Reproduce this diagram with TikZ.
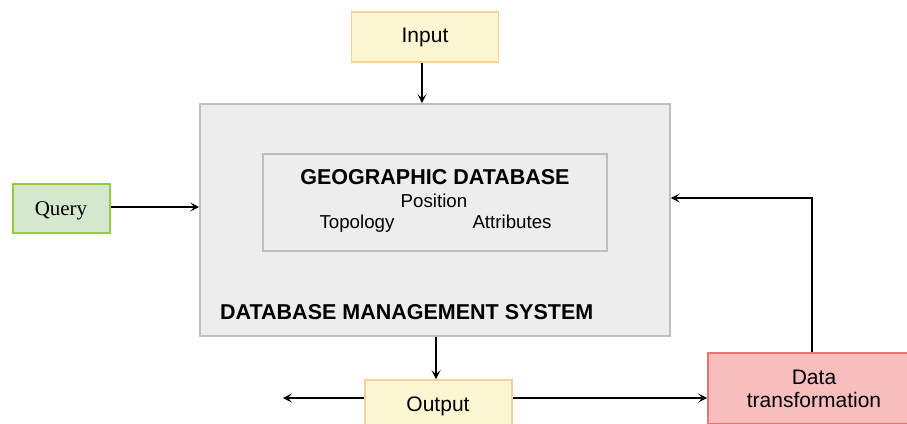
\documentclass[tikz,border=0pt]{standalone}
\usepackage{fontspec}
\setmainfont{Liberation Sans}
\newfontfamily\queryfont{Liberation Serif}
\usetikzlibrary{arrows.meta}
\definecolor{yelfill}{HTML}{FCF7D2}
\definecolor{yelline}{HTML}{FACE96}
\definecolor{grnfill}{HTML}{D3E8CC}
\definecolor{grnline}{HTML}{96CC3C}
\definecolor{redfill}{HTML}{F8BEBE}
\definecolor{redline}{HTML}{EC7474}
\definecolor{dbfill}{HTML}{EDEDED}
\definecolor{dbline}{HTML}{BEBEBE}
\tikzset{
  box/.style={draw, line width=1.6pt, inner sep=0pt, anchor=center},
  ybox/.style={box, fill=yelfill, draw=yelline},
  gbox/.style={box, fill=grnfill, draw=grnline},
  rbox/.style={box, fill=redfill, draw=redline},
  dbbox/.style={box, fill=dbfill, draw=dbline},
  reg/.style={font=\fontsize{18.7}{23}\selectfont, inner sep=0pt, anchor=base},
  big/.style={font=\fontsize{21}{23.5}\selectfont, inner sep=0pt, anchor=base},
  bld/.style={font=\fontsize{21.5}{24}\selectfont\bfseries, inner sep=0pt, anchor=base},
  arr/.style={draw=black, line width=1.5pt, -{Stealth[length=9pt,width=9pt,inset=4pt]}},
}
\begin{document}
\begin{tikzpicture}[x=1pt,y=-1pt]
\useasboundingbox (0,0) rectangle (907,423);
\clip (0,0) rectangle (907,423);

% boxes
\node[ybox, minimum width=147pt, minimum height=50pt] (input) at (425,37) {};
\node[dbbox, minimum width=470pt, minimum height=232pt] (dbms) at (435,220) {};
\node[dbbox, minimum width=344pt, minimum height=97pt] (geo) at (435,202.5) {};
\node[gbox, minimum width=97pt, minimum height=49pt] (query) at (61.5,208.5) {};
\node[ybox, minimum width=147pt, minimum height=60pt] (output) at (438.5,410) {};
\node[rbox, minimum width=212pt, minimum height=71pt] (dt) at (814,388.5) {};

% labels (placed by baseline)
\node[big] (inputtxt) at (425,42.7) {Input};
\node[font=\queryfont\fontsize{21}{24}\selectfont, inner sep=0pt, anchor=base] (querytxt) at (61,215.7) {Query};
\node[bld] (geotitle) at (435,184) {GEOGRAPHIC DATABASE};
\node[reg] (pos) at (434,207.3) {Position};
\node[reg] (topo) at (357,228.3) {Topology};
\node[reg] (attr) at (512,228.3) {Attributes};
\node[bld, anchor=base west] (dbmstxt) at (220,319.3) {DATABASE MANAGEMENT SYSTEM};
\node[big] (outtxt) at (438,411) {Output};
\node[big] (dttxt1) at (814,384) {Data};
\node[big] (dttxt2) at (814,407.7) {transformation};

% connectors
\coordinate (outL) at (283,398);
\coordinate (fb) at (812,198);
\draw[arr] (input.south -| 422,0) -- (dbms.north -| 422,0);
\draw[arr] (query.east |- 0,207) -- (dbms.west |- 0,207);
\draw[arr] (dbms.south -| 436,0) -- (output.north -| 436,0);
\draw[arr] (output.west |- outL) -- (outL);
\draw[arr] (output.east |- outL) -- (dt.west |- outL);
\draw[arr] (dt.north -| fb) -- (fb) -- (fb -| dbms.east);
\end{tikzpicture}
\end{document}
